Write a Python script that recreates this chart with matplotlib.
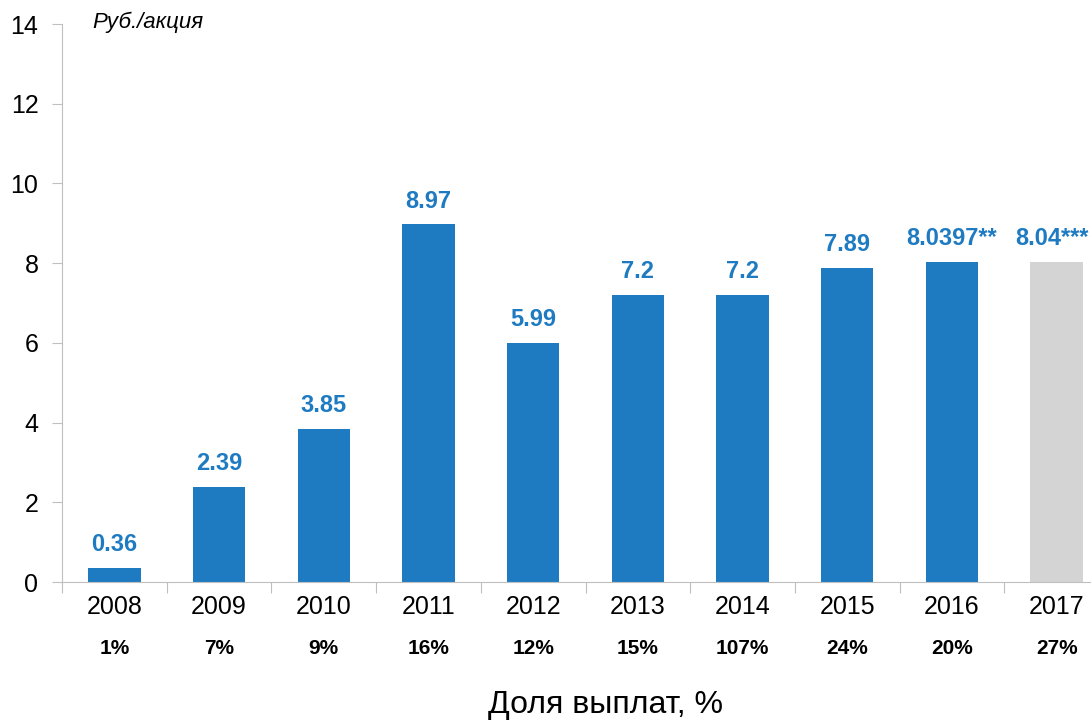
import numpy as np
import matplotlib.pyplot as plt
from matplotlib.transforms import blended_transform_factory

# Data
years = ['2008', '2009', '2010', '2011', '2012', '2013', '2014', '2015', '2016', '2017']
dividends = [0.36, 2.39, 3.85, 8.97, 5.99, 7.2, 7.2, 7.89, 8.0397, 8.04]
value_labels = ['0.36', '2.39', '3.85', '8.97', '5.99', '7.2', '7.2', '7.89', '8.0397**', '8.04***']
payout = ['1%', '7%', '9%', '16%', '12%', '15%', '107%', '24%', '20%', '27%']

blue = '#1F7BC1'
grey = '#D4D4D4'
axis_col = '#BFBFBF'

plt.rcParams['font.family'] = ['Liberation Sans', 'DejaVu Sans']

fig = plt.figure(figsize=(10.91, 7.21), dpi=100)
ax = fig.add_axes([62 / 1091, 1 - 582 / 721, 1047 / 1091, 558 / 721])

x = np.arange(len(years))
colors = [blue] * (len(years) - 1) + [grey]
ax.bar(x, dividends, width=0.5, color=colors)

ax.set_xlim(-0.5, len(years) - 0.5)
ax.set_ylim(0, 14)
ax.set_yticks(range(0, 15, 2))
ax.tick_params(axis='y', labelsize=18, length=7, color=axis_col, pad=10, direction='out')

# x ticks between categories
ax.set_xticks(np.arange(-0.5, len(years), 1))
ax.set_xticklabels([])
ax.tick_params(axis='x', length=8, color=axis_col, direction='out')

for s in ['top', 'right']:
    ax.spines[s].set_visible(False)
ax.spines['left'].set_color(axis_col)
ax.spines['bottom'].set_color(axis_col)

# year labels and payout shares
for i in x:
    ax.text(i, -0.62, years[i], ha='center', va='center', fontsize=18)
    ax.text(i, -1.68, payout[i], ha='center', va='center', fontsize=15, fontweight='bold')

# value labels
edge = blended_transform_factory(fig.transFigure, ax.transData)
for i, v in enumerate(dividends):
    if i == len(dividends) - 1:
        ax.text(1089 / 1091, v + 0.3, value_labels[i], ha='right', va='bottom',
                fontsize=17, fontweight='bold', color=blue, transform=edge)
    else:
        ax.text(i, v + 0.3, value_labels[i], ha='center', va='bottom', fontsize=17,
                fontweight='bold', color=blue)

ax.text(-0.21, 14.05, 'Руб./акция', ha='left', va='center', fontsize=16, style='italic')

fig.text(605 / 1091, 1 - 705 / 721, 'Доля выплат, %', ha='center', va='center', fontsize=23)

fig.savefig('out.png', dpi=100)
